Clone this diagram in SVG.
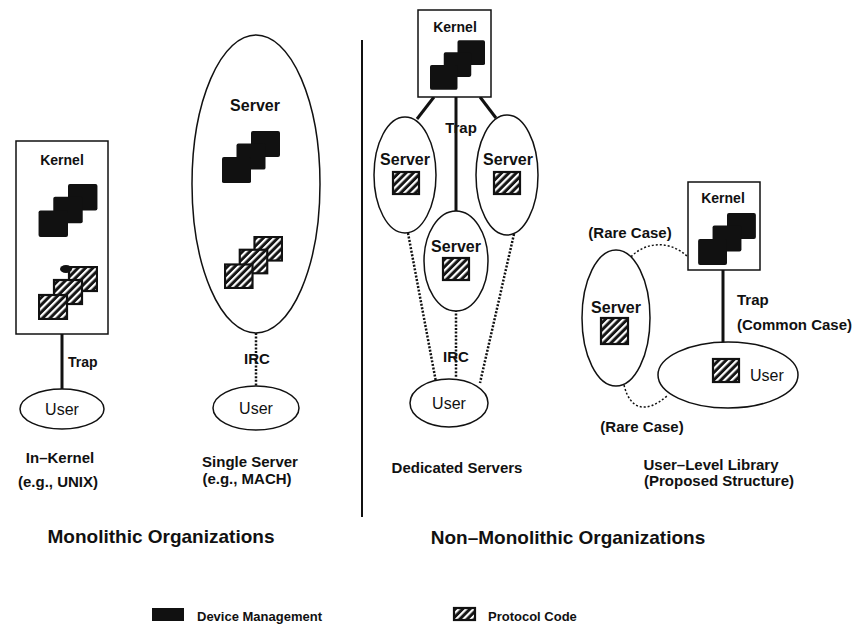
<svg xmlns="http://www.w3.org/2000/svg" width="860" height="632" viewBox="0 0 860 632">
<defs>
<pattern id="hatch" patternUnits="userSpaceOnUse" width="5.2" height="5.2" patternTransform="rotate(45)">
<rect width="5.2" height="5.2" fill="#151515"/>
<rect x="0" y="0" width="2.2" height="5.2" fill="#ffffff"/>
</pattern>
<symbol id="devstack" viewBox="0 0 60 54">
<rect x="30" y="0" width="30" height="27" rx="2" fill="#111"/>
<rect x="15" y="13" width="30" height="27" rx="2" fill="#111"/>
<rect x="0" y="27" width="30" height="27" rx="2" fill="#111"/>
</symbol>
<symbol id="protostack" viewBox="0 0 60 54">
<rect x="31" y="1" width="28" height="24" fill="url(#hatch)" stroke="#111" stroke-width="2.2"/>
<rect x="16" y="14" width="28" height="24" fill="url(#hatch)" stroke="#111" stroke-width="2.2"/>
<rect x="1" y="29" width="28" height="24" fill="url(#hatch)" stroke="#111" stroke-width="2.2"/>
</symbol>
</defs>
<style>
.box{fill:#fff;stroke:#111;stroke-width:1.5}
.ell{fill:#fff;stroke:#111;stroke-width:1.5}
.trap{stroke:#111;stroke-width:3;fill:none}
.ipc{stroke:#111;stroke-width:2.5;stroke-dasharray:2 1.6;fill:none}
.rare{stroke:#111;stroke-width:1.5;stroke-dasharray:2 2;fill:none}
.div{stroke:#111;stroke-width:2}
.b{font-family:"Liberation Sans",Arial,sans-serif;font-weight:bold;fill:#111}
.n{font-family:"Liberation Sans",Arial,sans-serif;fill:#111}
.hs{fill:url(#hatch);stroke:#111;stroke-width:2.2}
.lbl{font-size:15px}
.hd{font-size:19px}
</style>

<g id="connectors">
<line class="trap" x1="62" y1="334" x2="62" y2="390"/>
<line class="ipc" x1="256" y1="333" x2="256" y2="387"/>
<line class="trap" x1="434" y1="97" x2="417" y2="119"/>
<line class="trap" x1="456" y1="97" x2="456" y2="212"/>
<line class="trap" x1="480" y1="97" x2="496" y2="118"/>
<line class="ipc" x1="408" y1="233" x2="436" y2="382"/>
<line class="ipc" x1="456" y1="310" x2="456" y2="378"/>
<line class="ipc" x1="514" y1="234" x2="480" y2="383"/>
<line class="trap" x1="723" y1="270" x2="723" y2="343"/>
<path class="rare" d="M626,263 C640,242 668,238 688,257"/>
<path class="rare" d="M624,385 C630,410 646,414 667,396"/>
</g>

<line class="div" x1="362" y1="40" x2="362" y2="517"/>

<g id="inkernel-kernel">
<rect class="box" x="16" y="141" width="92" height="193"/>
<text class="b" x="62" y="165" font-size="14" text-anchor="middle">Kernel</text>
<use href="#devstack" x="38" y="184" width="60" height="53"/>
<use href="#protostack" x="38" y="266" width="60" height="54"/>
<ellipse cx="66" cy="269" rx="6" ry="4" fill="#111"/>
</g>
<text class="b" x="68" y="367" font-size="14">Trap</text>
<g id="inkernel-user">
<ellipse class="ell" cx="62" cy="409" rx="42" ry="20"/>
<text class="n" x="62" y="415" font-size="16" text-anchor="middle">User</text>
</g>
<text class="b lbl" x="60" y="463" text-anchor="middle">In–Kernel</text>
<text class="b lbl" x="58" y="487" text-anchor="middle">(e.g., UNIX)</text>

<g id="single-server">
<ellipse class="ell" cx="256" cy="184" rx="64" ry="149"/>
<text class="b" x="255" y="111" font-size="16" text-anchor="middle">Server</text>
<use href="#devstack" x="222" y="130" width="58" height="54"/>
<use href="#protostack" x="224" y="236" width="59" height="53"/>
</g>
<text class="b" x="257" y="364" font-size="15" text-anchor="middle">IRC</text>
<g id="single-user">
<ellipse class="ell" cx="256" cy="408" rx="43" ry="22"/>
<text class="n" x="256" y="414" font-size="16" text-anchor="middle">User</text>
</g>
<text class="b lbl" x="250" y="467" text-anchor="middle">Single Server</text>
<text class="b lbl" x="247" y="484" text-anchor="middle">(e.g., MACH)</text>

<g id="ded-kernel">
<rect class="box" x="418" y="10" width="73" height="87"/>
<text class="b" x="455" y="32" font-size="14" text-anchor="middle">Kernel</text>
<use href="#devstack" x="430" y="40" width="55" height="50"/>
</g>
<g id="ded-server-left">
<ellipse class="ell" cx="405" cy="175" rx="31" ry="58"/>
<text class="b" x="405" y="165" font-size="16" text-anchor="middle">Server</text>
<rect class="hs" x="393" y="172" width="26" height="22"/>
</g>
<g id="ded-server-right">
<ellipse class="ell" cx="507" cy="175" rx="31" ry="60"/>
<text class="b" x="508" y="165" font-size="16" text-anchor="middle">Server</text>
<rect class="hs" x="494" y="172" width="26" height="22"/>
</g>
<g id="ded-server-mid">
<ellipse class="ell" cx="456" cy="261" rx="32" ry="50"/>
<text class="b" x="456" y="252" font-size="16" text-anchor="middle">Server</text>
<rect class="hs" x="443" y="258" width="26" height="22"/>
</g>
<text class="b" x="461" y="133" font-size="15" text-anchor="middle">Trap</text>
<text class="b" x="456" y="362" font-size="15" text-anchor="middle">IRC</text>
<g id="ded-user">
<ellipse class="ell" cx="449" cy="403" rx="39" ry="24"/>
<text class="n" x="449" y="409" font-size="16" text-anchor="middle">User</text>
</g>
<text class="b lbl" x="457" y="473" text-anchor="middle">Dedicated Servers</text>

<g id="ull-kernel">
<rect class="box" x="688" y="182" width="72" height="88"/>
<text class="b" x="723" y="203" font-size="14" text-anchor="middle">Kernel</text>
<use href="#devstack" x="697" y="213" width="60" height="52"/>
</g>
<g id="ull-server">
<ellipse class="ell" cx="616" cy="318" rx="34" ry="68"/>
<text class="b" x="616" y="313" font-size="16" text-anchor="middle">Server</text>
<rect class="hs" x="601" y="318" width="27" height="26"/>
</g>
<g id="ull-user">
<ellipse class="ell" cx="728" cy="375" rx="70" ry="33"/>
<rect class="hs" x="713" y="359" width="26" height="23"/>
<text class="n" x="750" y="381" font-size="16">User</text>
</g>
<text class="b lbl" x="737" y="305">Trap</text>
<text class="b lbl" x="737" y="330">(Common Case)</text>
<text class="b lbl" x="630" y="238" text-anchor="middle">(Rare Case)</text>
<text class="b lbl" x="642" y="432" text-anchor="middle">(Rare Case)</text>
<text class="b lbl" x="711" y="470" text-anchor="middle">User–Level Library</text>
<text class="b lbl" x="719" y="486" text-anchor="middle">(Proposed Structure)</text>

<text class="b hd" x="161" y="543" text-anchor="middle">Monolithic Organizations</text>
<text class="b hd" x="568" y="544" text-anchor="middle">Non–Monolithic Organizations</text>

<g id="legend">
<rect x="152" y="608" width="32" height="13" fill="#111"/>
<text class="b" x="197" y="621" font-size="13">Device Management</text>
<rect class="hs" x="454" y="608" width="21" height="12"/>
<text class="b" x="488" y="621" font-size="13">Protocol Code</text>
</g>
</svg>
